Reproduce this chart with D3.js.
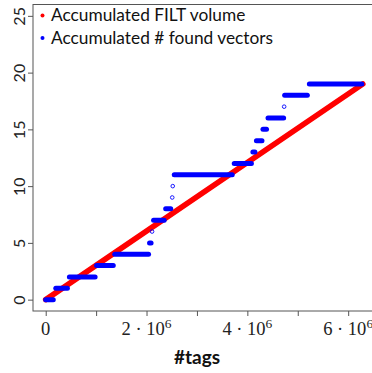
<!DOCTYPE html>
<html>
<head>
<meta charset="utf-8">
<script src="https://cdn.jsdelivr.net/npm/d3@7"></script>
<style>
  html, body { margin: 0; padding: 0; background: #fff; }
  svg { display: block; }
</style>
</head>
<body>
<svg id="chart" width="372" height="373"></svg>
<script>
// Accumulated FILT volume (straight growth from first to last tag)
const filtTags = [0, 6.29e6];
const filtVolume = [0, 19];

// Accumulated number of found vectors: runs of tags holding the same count
const runCounts = [0, 1, 2, 3, 4, 5, 7, 8, 11, 12, 13, 14, 15, 16, 18, 19];
const runStart  = [0.00e6, 0.20e6, 0.47e6, 1.01e6, 1.37e6, 2.06e6, 2.14e6, 2.38e6,
                   2.55e6, 3.74e6, 4.11e6, 4.18e6, 4.31e6, 4.41e6, 4.74e6, 5.23e6];
const runEnd    = [0.15e6, 0.43e6, 0.98e6, 1.34e6, 2.04e6, 2.09e6, 2.35e6, 2.48e6,
                   3.70e6, 4.08e6, 4.15e6, 4.29e6, 4.38e6, 4.72e6, 5.19e6, 6.27e6];

// Counts that were held for only a single tag
const singleCounts = [6, 9, 10, 17];
const singleTags   = [2.11e6, 2.51e6, 2.52e6, 4.73e6];

const yTicks = [0, 5, 10, 15, 20, 25];
const xMajorTicks = [0, 2e6, 4e6, 6e6];
const xMinorTicks = [1e6, 3e6, 5e6];
const legendLabels = ["Accumulated FILT volume", "Accumulated # found vectors"];
const legendColors = ["#ff0000", "#0000ff"];
const xTitle = "#tags";

const svg = d3.select("#chart");
const frame = { left: 33, right: 376, top: 4.5, bottom: 311 };

const x = d3.scaleLinear().domain([-0.252e6, 6.552e6]).range([frame.left, frame.right]);
const y = d3.scaleLinear().domain([-1, 26]).range([frame.bottom, frame.top]);

// Frame
svg.append("rect")
  .attr("x", frame.left).attr("y", frame.top)
  .attr("width", frame.right - frame.left).attr("height", frame.bottom - frame.top)
  .attr("fill", "none").attr("stroke", "#555").attr("stroke-width", 1);

// Y axis
const yAxis = svg.append("g").attr("transform", `translate(${frame.left},0)`)
  .call(d3.axisLeft(y).tickValues(yTicks).tickSize(5).tickFormat(d3.format("d")));
yAxis.select(".domain").remove();
yAxis.selectAll(".tick line").attr("stroke", "#555");
yAxis.selectAll(".tick text")
  .attr("x", null).attr("dy", null)
  .attr("transform", "translate(-8,0) rotate(-90)")
  .attr("text-anchor", "middle")
  .attr("fill", "#222")
  .style("font-family", "Lato, 'Open Sans', sans-serif")
  .style("font-size", "16px");

// X axis
const xAxis = svg.append("g").attr("transform", `translate(0,${frame.bottom})`)
  .call(d3.axisBottom(x).tickValues(xMajorTicks.concat(xMinorTicks)).tickSize(5).tickFormat(""));
xAxis.select(".domain").remove();
xAxis.selectAll(".tick line").attr("stroke", "#555");

const xLab = svg.append("g")
  .style("font-family", "'Liberation Serif', 'DejaVu Serif', serif")
  .style("font-size", "18.5px")
  .attr("fill", "#222");
xMajorTicks.forEach(v => {
  const t = xLab.append("text")
    .attr("x", x(v)).attr("y", 335)
    .attr("text-anchor", "middle");
  if (v === 0) {
    t.text("0");
  } else {
    t.append("tspan").text(`${v / 1e6} \u00b7 10`);
    t.append("tspan").attr("dy", -7.5).style("font-size", "13.5px").text("6");
  }
});

svg.append("text")
  .attr("x", 197).attr("y", 364)
  .attr("text-anchor", "middle")
  .style("font-family", "Lato, 'Open Sans', sans-serif")
  .style("font-weight", "bold")
  .style("font-size", "19px")
  .attr("fill", "#111")
  .text(xTitle);

// Plot marks
const plot = svg.append("g");

plot.append("line")
  .attr("x1", x(filtTags[0])).attr("y1", y(filtVolume[0]))
  .attr("x2", x(filtTags[1])).attr("y2", y(filtVolume[1]))
  .attr("stroke", "#ff0000").attr("stroke-width", 5.6).attr("stroke-linecap", "round");

plot.selectAll("line.run")
  .data(runCounts.map((c, i) => ({ c, s: runStart[i], e: runEnd[i] })))
  .join("line")
  .attr("class", "run")
  .attr("x1", d => x(d.s)).attr("x2", d => x(d.e))
  .attr("y1", d => y(d.c)).attr("y2", d => y(d.c))
  .attr("stroke", "#0000ff").attr("stroke-width", 5).attr("stroke-linecap", "round");

plot.selectAll("circle.single")
  .data(singleCounts.map((c, i) => ({ c, t: singleTags[i] })))
  .join("circle")
  .attr("class", "single")
  .attr("cx", d => x(d.t)).attr("cy", d => y(d.c))
  .attr("r", 1.8)
  .attr("fill", "none").attr("stroke", "#0000ff").attr("stroke-width", 0.9);

// Legend
const legend = svg.append("g");
legendLabels.forEach((lab, i) => {
  const cy = 15.5 + i * 22.5;
  legend.append("circle").attr("cx", 42.5).attr("cy", cy).attr("r", 2).attr("fill", legendColors[i]);
  legend.append("text")
    .attr("x", 51).attr("y", cy + 5.8)
    .style("font-family", "Lato, 'Open Sans', sans-serif")
    .style("font-size", "17.3px")
    .attr("fill", "#111")
    .text(lab);
});
</script>
</body>
</html>
